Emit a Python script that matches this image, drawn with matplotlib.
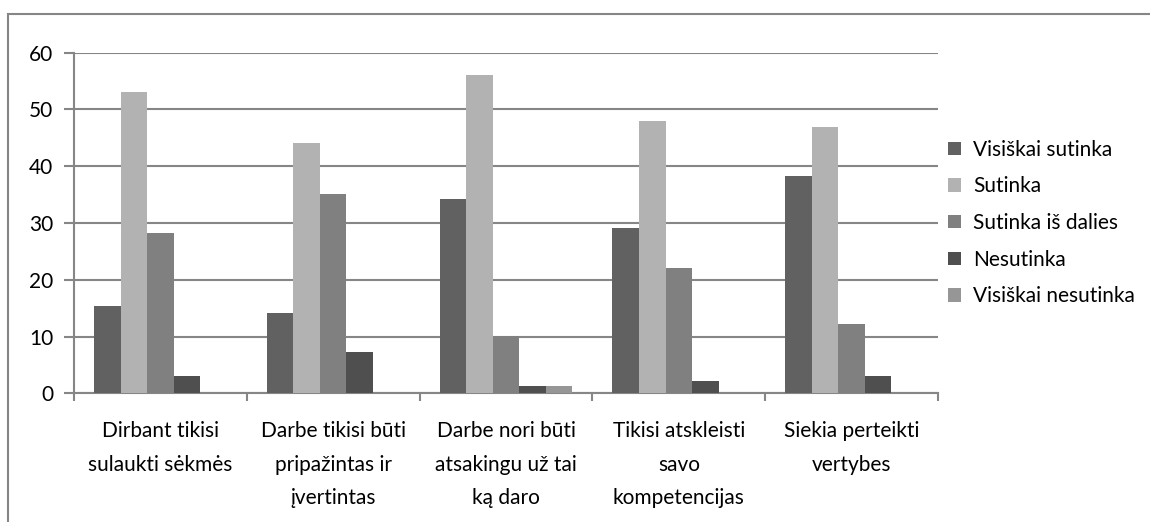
import numpy as np
import matplotlib
matplotlib.use("Agg")
import matplotlib.pyplot as plt
from matplotlib.patches import Rectangle

categories = ["Dirbant tikisi\nsulaukti sėkmės",
              "Darbe tikisi būti\npripažintas ir\nįvertintas",
              "Darbe nori būti\natsakingu už tai\nką daro",
              "Tikisi atskleisti\nsavo\nkompetencijas",
              "Siekia perteikti\nvertybes"]
series = ["Visiškai sutinka", "Sutinka", "Sutinka iš dalies", "Nesutinka", "Visiškai nesutinka"]
visiskai_sutinka = [15.3, 14.2, 34.2, 29.1, 38.2]
sutinka = [53.1, 44.1, 56.0, 48.0, 46.9]
is_dalies = [28.3, 35.1, 10.1, 22.1, 12.2]
nesutinka = [3.1, 7.2, 1.2, 2.1, 3.1]
visiskai_nesutinka = [0, 0, 1.2, 0, 0]
yticks = [0, 10, 20, 30, 40, 50, 60]

values = [visiskai_sutinka, sutinka, is_dalies, nesutinka, visiskai_nesutinka]
colors = ["#616161", "#b2b2b2", "#808080", "#4f4f4f", "#969696"]

plt.rcParams['font.family'] = ['Lato', 'DejaVu Sans']
fig = plt.figure(figsize=(11.5, 5.22), dpi=100)
# outer chart frame (only top and left edges visible)
fig.patches.append(Rectangle((8/1150, -0.1), 1.2, (522-14)/522 + 0.1, transform=fig.transFigure,
                             fill=False, edgecolor="#868686", linewidth=1.5))

ax = fig.add_axes([74/1150, 1-393.3/522, (938-74)/1150, (393.3-52.7)/522])
n = len(categories)
w = 1/6.5
x = np.arange(n)
for i, (vals, col, name) in enumerate(zip(values, colors, series)):
    ax.bar(x - 2*w + i*w + 0.5, vals, width=w, color=col, label=name, zorder=3)

ax.set_xlim(0, n)
ax.set_ylim(0, 60)
ax.set_yticks(yticks)
ax.yaxis.grid(True, color="#868686", linewidth=1.5, zorder=0)
ax.set_xticks(np.arange(n+1))
ax.set_xticklabels([])
ax.set_xticks(x + 0.5, minor=True)
ax.set_xticklabels(categories, minor=True, fontsize=15, linespacing=1.85, va="top")
ax.tick_params(axis="x", which="minor", length=0, pad=20)
ax.tick_params(axis="x", which="major", length=6, width=1.5, color="#868686")
ax.tick_params(axis="y", length=7, width=1.5, color="#868686", labelsize=15, pad=8)
for s in ["top", "right"]:
    ax.spines[s].set_visible(False)
for s in ["left", "bottom"]:
    ax.spines[s].set_color("#868686")
    ax.spines[s].set_linewidth(1.5)

ax.legend(loc="center left", bbox_to_anchor=(0.99, 0.5), frameon=False, fontsize=15,
          handlelength=0.6, handleheight=0.6, handletextpad=0.6, labelspacing=0.8)

fig.savefig("out.png", dpi=100)
